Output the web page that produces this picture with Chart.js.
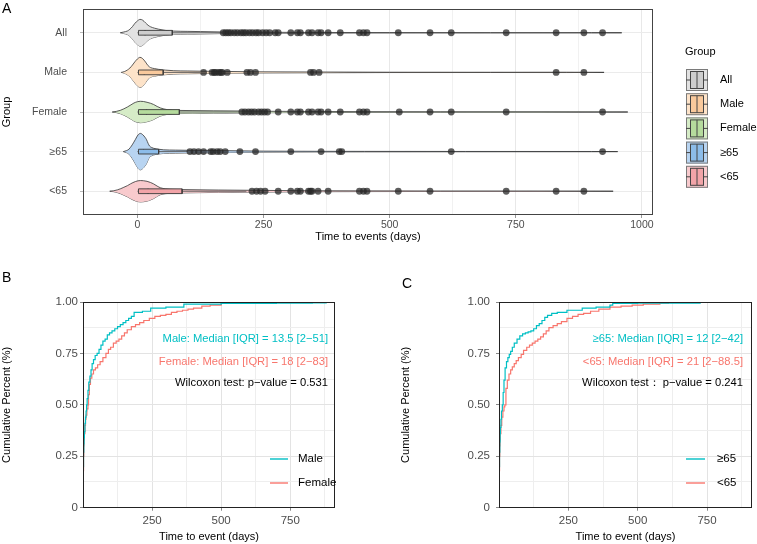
<!DOCTYPE html>
<html><head><meta charset="utf-8">
<script src="https://cdn.jsdelivr.net/npm/chart.js@4.4.1/dist/chart.umd.min.js"></script>
<style>
html,body{margin:0;padding:0;background:#fff;}
#wrap{position:relative;width:757px;height:544px;overflow:hidden;background:#fff;}
.box{position:absolute;}
</style></head><body>
<div id="wrap">
 <div class="box" style="left:0;top:0;width:757px;height:250px"><canvas id="cA"></canvas></div>
 <div class="box" style="left:0;top:250px;width:380px;height:294px"><canvas id="cB"></canvas></div>
 <div class="box" style="left:380px;top:250px;width:377px;height:294px"><canvas id="cC"></canvas></div>
</div>
<script>
// ---------------- DATA ----------------
const groups = ['All','Male','Female','≥65','<65'];
const boxQ1 = [2,2,2,2,2];
const boxMedian = [15,13.5,18,12,21];
const boxQ3 = [69,51,83,42,88.5];
const whiskerLow = [0,0,0,0,0];
const whiskerHigh = [168,124,204,100,216];

const outAll = [170,175,180,185,192,198,205,210,215,222,228,235,240,248,255,262,273,279,304,317,323,339,346,358,364,378,402,440,448,455,517,580,622,731,830,885,922];
const outMale = [131,148,152,155,161,165,168,178,217,224,234,343,349,360,830,885];
const outFemale = [207,213,220,226,232,240,246,252,258,279,304,317,323,339,346,358,364,378,402,440,448,455,519,580,622,731,922];
const outOld = [104,112,121,131,145,150,158,164,174,203,234,304,364,400,405,622,922];
const outYoung = [227,236,244,253,279,304,317,323,339,343,346,358,378,440,448,455,517,580,731,830,885];

// violin outlines: [time, half-width in category units]
const violinAll = [[-34,0],[-27,0.02],[-20,0.045],[-15,0.09],[-10,0.155],[-5,0.24],[0,0.3],[5,0.338],[10,0.32],[16,0.25],[21,0.19],[26,0.15],[34,0.115],[42,0.09],[55,0.06],[72,0.042],[100,0.035],[125,0.03],[170,0.02],[250,0.012],[350,0.008],[500,0.005],[700,0.004],[900,0.003],[960,0]];
const violinMale = [[-32,0],[-26,0.02],[-20,0.06],[-15,0.11],[-10,0.185],[-5,0.27],[0,0.34],[5,0.38],[10,0.35],[16,0.26],[21,0.17],[26,0.12],[34,0.095],[42,0.076],[55,0.058],[72,0.042],[100,0.035],[125,0.03],[170,0.025],[230,0.015],[350,0.01],[500,0.004],[700,0.003],[850,0.004],[925,0]];
const violinFemale = [[-50,0],[-42,0.015],[-34,0.042],[-27,0.08],[-20,0.126],[-13,0.18],[-7,0.227],[0,0.26],[6,0.27],[12,0.265],[19,0.245],[26,0.22],[32,0.19],[39,0.14],[46,0.1],[59,0.06],[81,0.04],[110,0.035],[150,0.03],[204,0.025],[260,0.018],[350,0.012],[450,0.008],[600,0.005],[800,0.004],[972,0]];
const violinOld = [[-28,0],[-22,0.025],[-17,0.06],[-10.5,0.17],[-4,0.31],[1,0.42],[6,0.46],[11,0.42],[15,0.36],[18,0.3],[21,0.21],[24,0.14],[28,0.105],[32,0.084],[42,0.06],[52,0.045],[75,0.038],[100,0.033],[140,0.03],[200,0.02],[250,0.012],[350,0.008],[450,0.006],[650,0.004],[900,0.003],[952,0]];
const violinYoung = [[-55,0],[-47,0.012],[-40,0.034],[-33,0.065],[-27,0.1],[-20,0.14],[-14,0.185],[-4,0.245],[6,0.27],[12,0.265],[19,0.25],[26,0.22],[32,0.185],[39,0.13],[46,0.085],[55,0.062],[65,0.05],[88,0.042],[120,0.036],[160,0.03],[220,0.024],[280,0.018],[350,0.012],[450,0.009],[600,0.006],[800,0.004],[943,0]];

const xTicksA = [0,125,250,375,500,625,750,875,1000];
const xLabelsA = [0,250,500,750,1000];

// ECDF curves (time, cumulative proportion)
const ecdfMaleX = [0,1,2,3,4,5,7,9,11,13,15,18,21,25,29,33,38,44,51,58,65,72,80,88,96,105,115,125,135,145,155,165,175,185,200,215,245,300,365,500,700,830,880,912];
const ecdfMaleY = [0.15,0.2,0.27,0.31,0.34,0.37,0.41,0.44,0.47,0.5,0.53,0.57,0.61,0.64,0.67,0.7,0.72,0.74,0.75,0.77,0.79,0.81,0.82,0.84,0.85,0.86,0.87,0.88,0.89,0.9,0.91,0.92,0.93,0.95,0.95,0.955,0.97,0.975,0.99,0.993,0.995,0.996,1.0,1.0];
const ecdfFemaleX = [0,1,2,3,4,5,7,9,11,14,18,20,23,27,32,38,45,53,62,72,83,92,100,110,120,130,140,150,160,175,190,205,220,240,260,280,300,320,340,360,380,400,430,460,500,575,912];
const ecdfFemaleY = [0.13,0.18,0.25,0.3,0.33,0.36,0.4,0.43,0.45,0.48,0.5,0.55,0.6,0.63,0.65,0.67,0.68,0.695,0.71,0.73,0.75,0.77,0.78,0.8,0.81,0.82,0.835,0.85,0.865,0.88,0.89,0.9,0.91,0.92,0.93,0.935,0.94,0.95,0.955,0.96,0.965,0.97,0.98,0.985,0.993,1.0,1.0];
const ecdfOldX = [0,1,2,3,4,5,7,9,12,15,18,22,27,32,37,42,48,55,65,75,85,95,105,115,125,135,145,155,165,175,190,210,245,300,350,400,410,500,725,912];
const ecdfOldY = [0.15,0.2,0.27,0.32,0.36,0.39,0.43,0.47,0.5,0.56,0.62,0.68,0.71,0.73,0.745,0.76,0.78,0.8,0.82,0.835,0.845,0.85,0.855,0.86,0.87,0.885,0.895,0.91,0.925,0.935,0.945,0.95,0.96,0.97,0.975,0.985,0.993,0.995,1.0,1.0];
const ecdfYoungX = [0,1,2,3,4,5,7,10,14,18,21,25,30,36,42,48,55,62,70,80,88.5,100,110,120,130,140,150,160,170,180,195,210,225,245,265,285,305,330,360,400,440,480,520,580,611,912];
const ecdfYoungY = [0.13,0.18,0.25,0.3,0.33,0.36,0.4,0.44,0.47,0.49,0.5,0.58,0.62,0.65,0.67,0.685,0.7,0.715,0.73,0.745,0.765,0.78,0.79,0.8,0.81,0.82,0.83,0.845,0.86,0.875,0.885,0.895,0.905,0.92,0.93,0.94,0.945,0.955,0.965,0.975,0.98,0.985,0.99,0.995,1.0,1.0];

const xGridEcdf = [125,250,375,500,625,750,875];
const xLabelsEcdf = [250,500,750];
const yGridEcdf = [0,0.125,0.25,0.375,0.5,0.625,0.75,0.875,1];
const yTickValsEcdf = [0,0.25,0.5,0.75,1];
const yTickLabelsEcdf = ['0','0.25','0.50','0.75','1.00'];

// ---------------- STYLE ----------------
const FONT = "'Liberation Sans', Arial, Helvetica, sans-serif";
Chart.defaults.font.family = FONT;
Chart.defaults.animation = false;
const violinFill = ['#e2e2e2','#fde3c9','#d6ecc7','#b8d4f1','#f8cacd'];
const boxFill = ['#cdcdcd','#f9c99c','#b5db9d','#8cbce9','#f2a4a8'];
const TEAL = '#00BFC4', SALMON = '#F8766D';

function txt(ctx, s, x, y, size, color, align){
  ctx.save(); ctx.font = size + 'px ' + FONT; ctx.fillStyle = color || '#000';
  ctx.textAlign = align || 'left'; ctx.textBaseline = 'middle'; ctx.fillText(s, x, y); ctx.restore();
}
function framePlugin(color){
  return {id:'frame', afterDatasetsDraw(chart){
    const {ctx, chartArea:a} = chart; ctx.save(); ctx.strokeStyle = color; ctx.lineWidth = 1;
    ctx.strokeRect(Math.round(a.left)+0.5, Math.round(a.top)+0.5, Math.round(a.right-a.left)-1, Math.round(a.bottom-a.top)-1);
    ctx.restore();
  }};
}
function fitY(w){ return s=>{ s.width = w; s.paddingTop = 0; s.paddingBottom = 0; }; }
function fitX(h){ return s=>{ s.height = h; s.paddingLeft = 0; s.paddingRight = 0; }; }

// ---------------- PANEL A ----------------
const violins = [violinAll, violinMale, violinFemale, violinOld, violinYoung];
const outliers = [outAll, outMale, outFemale, outOld, outYoung];
const BH = 0.06;
const dsA = [];
groups.forEach((g,i)=>{
  const pos = i+1;
  dsA.push({data: outliers[i].map(v=>({x:v,y:pos})), showLine:false, pointRadius:3.4, pointHoverRadius:3.4,
    pointBackgroundColor:'rgba(40,40,40,0.75)', pointBorderWidth:0, order:0});
  dsA.push({data:[{x:boxQ1[i],y:pos-BH},{x:boxQ3[i],y:pos-BH},{x:boxQ3[i],y:pos+BH},{x:boxQ1[i],y:pos+BH},{x:boxQ1[i],y:pos-BH}],
    fill:'shape', backgroundColor:boxFill[i], borderColor:'#3a3a3a', borderWidth:0.9, pointRadius:0, tension:0, order:1});
  dsA.push({data:[{x:boxMedian[i],y:pos-BH},{x:boxMedian[i],y:pos+BH}], borderColor:'#333', borderWidth:0.9, pointRadius:0, fill:false, order:1});
  dsA.push({data:[{x:boxQ3[i],y:pos},{x:whiskerHigh[i],y:pos}], borderColor:'#555', borderWidth:0.9, pointRadius:0, fill:false, order:2});
  dsA.push({data:[{x:whiskerLow[i],y:pos},{x:boxQ1[i],y:pos}], borderColor:'#555', borderWidth:0.9, pointRadius:0, fill:false, order:2});
  dsA.push({data: violins[i].map(p=>({x:p[0], y:pos-p[1]})), borderColor:'#333', borderWidth:0.8, backgroundColor:violinFill[i],
    fill:'+1', pointRadius:0, cubicInterpolationMode:'monotone', order:3});
  dsA.push({data: violins[i].map(p=>({x:p[0], y:pos+p[1]})), borderColor:'#333', borderWidth:0.8,
    fill:false, pointRadius:0, cubicInterpolationMode:'monotone', order:3});
});

const legendA = {id:'legendA', afterDraw(chart){
  const ctx = chart.ctx;
  txt(ctx, 'A', 2, 9, 14, '#000');
  txt(ctx, 'Group', 685, 52, 11, '#000');
  groups.forEach((g,i)=>{
    const cy = 80 + i*24.2;
    ctx.save();
    ctx.fillStyle = violinFill[i]; ctx.strokeStyle = '#7a7a7a'; ctx.lineWidth = 1;
    ctx.fillRect(686, cy-11, 22, 22); ctx.strokeRect(686.5, cy-10.5, 21, 21);
    ctx.fillStyle = boxFill[i]; ctx.strokeStyle = '#444';
    ctx.fillRect(690.5, cy-9, 13, 18); ctx.strokeRect(690.5, cy-8.5, 13, 17);
    ctx.beginPath(); ctx.moveTo(697, cy-8.5); ctx.lineTo(697, cy+8.5);
    ctx.moveTo(686, cy); ctx.lineTo(690.5, cy); ctx.moveTo(703.5, cy); ctx.lineTo(708, cy); ctx.stroke();
    ctx.restore();
    txt(ctx, g, 720, cy, 11, '#000');
  });
}};

new Chart(document.getElementById('cA'), {
  type:'line',
  data:{datasets: dsA},
  options:{
    responsive:true, maintainAspectRatio:false, events:[],
    layout:{padding:{left:0, top:9, right:104, bottom:0}},
    plugins:{legend:{display:false}, tooltip:{enabled:false}},
    scales:{
      x:{type:'linear', min:-108, max:1022,
        afterBuildTicks:s=>{s.ticks = xTicksA.map(v=>({value:v}));},
        ticks:{autoSkip:false, maxRotation:0, padding:1, color:'#4d4d4d', font:{size:10.5},
          callback:(v)=> xLabelsA.includes(v) ? String(v) : ''},
        grid:{color:c=> xLabelsA.includes(c.tick && c.tick.value) ? '#e8e8e8' : '#f1f1f1', tickLength:3,
          tickColor:c=> xLabelsA.includes(c.tick && c.tick.value) ? '#999' : 'rgba(0,0,0,0)'},
        border:{display:false},
        title:{display:true, text:'Time to events (days)', color:'#000', font:{size:11}, padding:{top:0,bottom:6}},
        afterFit:fitX(35)
      },
      y:{type:'linear', min:0.4, max:5.6, reverse:true,
        afterBuildTicks:s=>{s.ticks = groups.map((g,i)=>({value:i+1}));},
        ticks:{autoSkip:false, padding:13, color:'#4d4d4d', font:{size:10.5}, callback:(v,i)=>groups[i]},
        grid:{color:'#ebebeb', tickLength:3, tickColor:'#bbb'},
        border:{display:false},
        title:{display:true, text:'Group', color:'#000', font:{size:11}, padding:{top:0,bottom:0}},
        afterFit:fitY(83)
      }
    }
  },
  plugins:[framePlugin('#444'), legendA]
});

// ---------------- PANELS B & C ----------------
function makeEcdf(id, cfg){
  const textPlugin = {id:'txt'+id, afterDraw(chart){
    const ctx = chart.ctx;
    txt(ctx, cfg.letter, cfg.letterX, cfg.letterY, 14, '#000');
    txt(ctx, cfg.ann[0], cfg.annX, 89, 11.2, TEAL, 'right');
    txt(ctx, cfg.ann[1], cfg.annX, 112, 11.2, SALMON, 'right');
    txt(ctx, cfg.ann[2], cfg.annX, 133, 11.2, '#000', 'right');
    [[TEAL, cfg.names[0], 209],[SALMON, cfg.names[1], 233]].forEach(([col, name, y])=>{
      ctx.save(); ctx.strokeStyle = col; ctx.lineWidth = 1.4; ctx.beginPath();
      ctx.moveTo(cfg.legX0, y); ctx.lineTo(cfg.legX1, y); ctx.stroke(); ctx.restore();
      txt(ctx, name, cfg.legTX, y, 11.5, '#000');
    });
  }};
  new Chart(document.getElementById(id), {
    type:'line',
    data:{datasets:[
      {data: cfg.x1.map((x,i)=>({x, y:cfg.y1[i]})), borderColor:TEAL, borderWidth:1.2, pointRadius:0, stepped:'before', fill:false},
      {data: cfg.x2.map((x,i)=>({x, y:cfg.y2[i]})), borderColor:SALMON, borderWidth:1.2, pointRadius:0, stepped:'before', fill:false}
    ]},
    options:{
      responsive:true, maintainAspectRatio:false, events:[],
      layout:{padding:{left:cfg.padL, top:52, right:cfg.padR, bottom:0}},
      plugins:{legend:{display:false}, tooltip:{enabled:false}},
      scales:{
        x:{type:'linear', min:0, max:912,
          afterBuildTicks:s=>{s.ticks = xGridEcdf.map(v=>({value:v}));},
          ticks:{autoSkip:false, maxRotation:0, padding:3, color:'#4d4d4d', font:{size:11.5},
            callback:(v)=> xLabelsEcdf.includes(v) ? String(v) : ''},
          grid:{color:c=> xLabelsEcdf.includes(c.tick && c.tick.value) ? '#e3e3e3' : '#eeeeee', tickLength:3,
            tickColor:c=> xLabelsEcdf.includes(c.tick && c.tick.value) ? '#888' : 'rgba(0,0,0,0)'},
          border:{display:false},
          title:{display:true, text:'Time to event (days)', color:'#000', font:{size:11}, padding:{top:0,bottom:0.7}},
          afterFit:fitX(36.3)
        },
        y:{type:'linear', min:0, max:1,
          afterBuildTicks:s=>{s.ticks = yGridEcdf.map(v=>({value:v}));},
          ticks:{autoSkip:false, padding:cfg.yTickPad, color:'#4d4d4d', font:{size:11.5},
            callback:(v)=>{const k = yTickValsEcdf.indexOf(v); return k>=0 ? yTickLabelsEcdf[k] : '';}},
          grid:{color:c=> yTickValsEcdf.includes(c.tick && c.tick.value) ? '#e3e3e3' : '#eeeeee', tickLength:3,
            tickColor:c=> yTickValsEcdf.includes(c.tick && c.tick.value) ? '#888' : 'rgba(0,0,0,0)'},
          border:{display:false},
          title:{display:true, text:'Cumulative Percent (%)', color:'#000', font:{size:11}, padding:{top:0,bottom:0}},
          afterFit:fitY(cfg.yW)
        }
      }
    },
    plugins:[framePlugin('#222'), textPlugin]
  });
}

makeEcdf('cB', {x1:ecdfMaleX, y1:ecdfMaleY, x2:ecdfFemaleX, y2:ecdfFemaleY,
  letter:'B', letterX:2, letterY:28,
  ann:['Male: Median [IQR] = 13.5 [2\u221251]','Female: Median [IQR] = 18 [2\u221283]','Wilcoxon test: p\u2212value = 0.531'],
  annX:328, names:['Male','Female'], legX0:270, legX1:288, legTX:298,
  padL:0, padR:45, yW:83, yTickPad:2});

makeEcdf('cC', {x1:ecdfOldX, y1:ecdfOldY, x2:ecdfYoungX, y2:ecdfYoungY,
  letter:'C', letterX:22, letterY:34,
  ann:['\u226565: Median [IQR] = 12 [2\u221242]','<65: Median [IQR] = 21 [2\u221288.5]','Wilcoxon test\uff1a p\u2212value = 0.241'],
  annX:363, names:['\u226565','<65'], legX0:306, legX1:325, legTX:337,
  padL:19.4, padR:5, yW:99.6, yTickPad:6});
</script>
</body></html>
